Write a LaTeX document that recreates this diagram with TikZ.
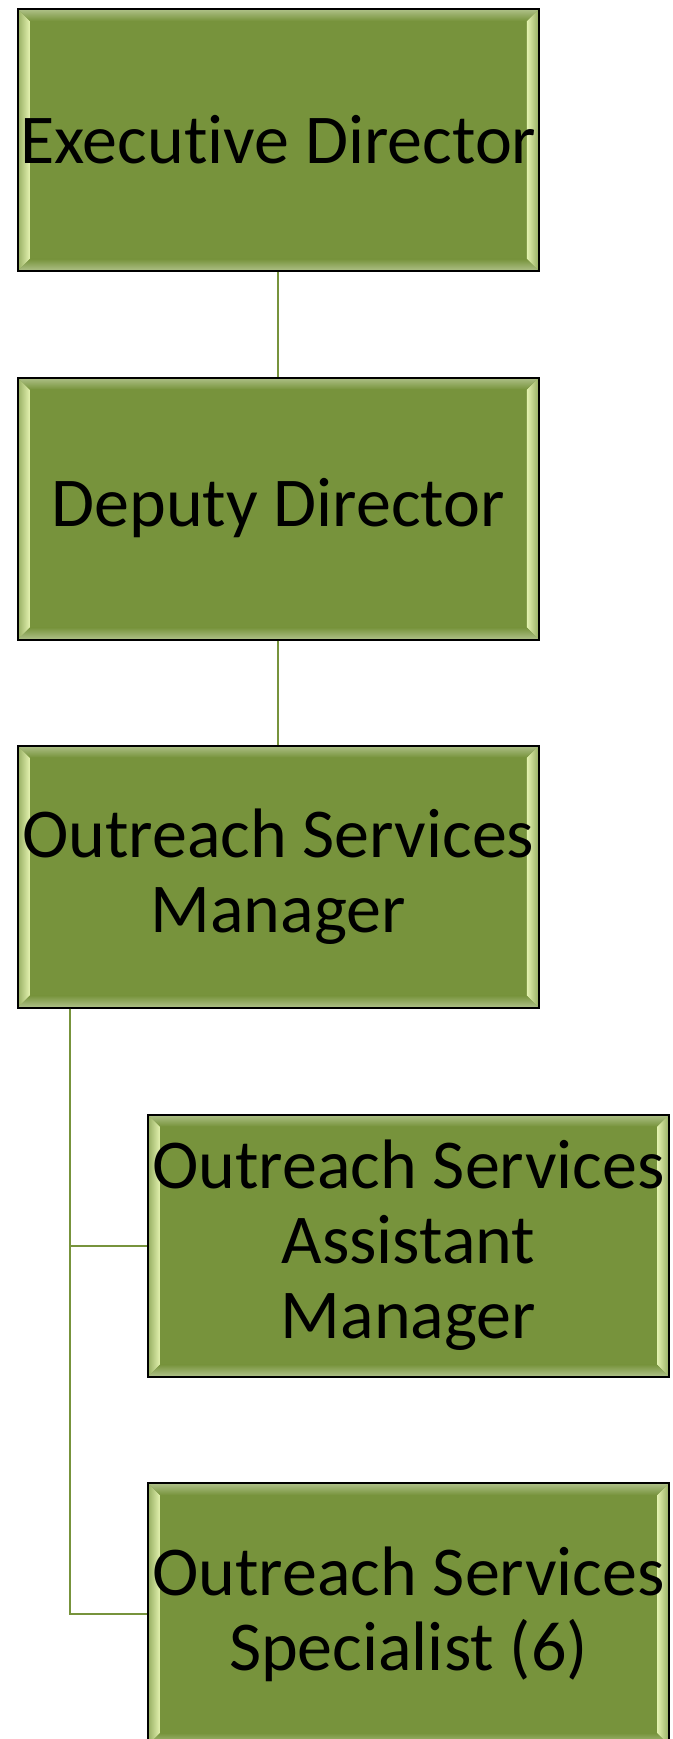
\documentclass[tikz,border=0pt]{standalone}
\usepackage{fontspec}
\setmainfont{Carlito}[Ligatures=NoCommon]
\usepackage{tikz}
\usetikzlibrary{calc}
\definecolor{olivefill}{RGB}{119,147,60}
\definecolor{olivelight}{RGB}{228,242,176}
\definecolor{olivemid}{RGB}{150,174,98}
\definecolor{oliveedge}{RGB}{176,194,138}
% bevelled edges inside a box
\newcommand{\bevel}{%
  \coordinate (bnw) at (path picture bounding box.north west);
  \coordinate (bne) at (path picture bounding box.north east);
  \coordinate (bsw) at (path picture bounding box.south west);
  \coordinate (bse) at (path picture bounding box.south east);
  \shade[left color=olivemid, right color=olivelight]
    (bsw) -- (bnw) -- ($(bnw)+(6pt,-6pt)$) -- ($(bsw)+(6pt,6pt)$) -- cycle;
  \shade[left color=olivelight, right color=olivemid]
    (bse) -- (bne) -- ($(bne)+(-6pt,-6pt)$) -- ($(bse)+(-6pt,6pt)$) -- cycle;
  \shade[top color=oliveedge, bottom color=olivefill]
    (bnw) -- (bne) -- ($(bne)+(-6pt,-6pt)$) -- ($(bnw)+(6pt,-6pt)$) -- cycle;
  \shade[top color=olivefill, bottom color=oliveedge]
    (bsw) -- (bse) -- ($(bse)+(-6pt,6pt)$) -- ($(bsw)+(6pt,6pt)$) -- cycle;
}
\tikzset{
  rolebox/.style={draw=black, line width=1pt, fill=olivefill, path picture={\bevel},
    minimum width=260.5pt, minimum height=131pt, inner sep=0pt,
    align=center, font=\fontsize{35}{37.5}\selectfont},
  orgline/.style={draw=olivefill, line width=1pt}
}

\begin{document}
\begin{tikzpicture}[x=0.5pt,y=0.5pt]
  \useasboundingbox (0,0) rectangle (673,-1739);

  % boxes
  \node[rolebox] (exdir) at (278.25,-140) {Executive Director};
  \node[rolebox] (depdir) at (278.25,-508.5) {Deputy Director};
  \node[rolebox] (osm) at (278.25,-876.5) {Outreach Services\\Manager};
  \node[rolebox] (osam) at (408.5,-1245.5) {Outreach Services\\Assistant\\Manager};
  \node[rolebox] (oss) at (408.5,-1614) {Outreach Services\\Specialist (6)};

  % connectors
  \draw[orgline] (exdir) -- (depdir);
  \draw[orgline] (depdir) -- (osm);
  \coordinate (trunk) at ($(osm.south west)+(53,0)$);
  \draw[orgline] (trunk) |- (osam.west);
  \draw[orgline] (trunk) |- (oss.west);
\end{tikzpicture}
\end{document}
